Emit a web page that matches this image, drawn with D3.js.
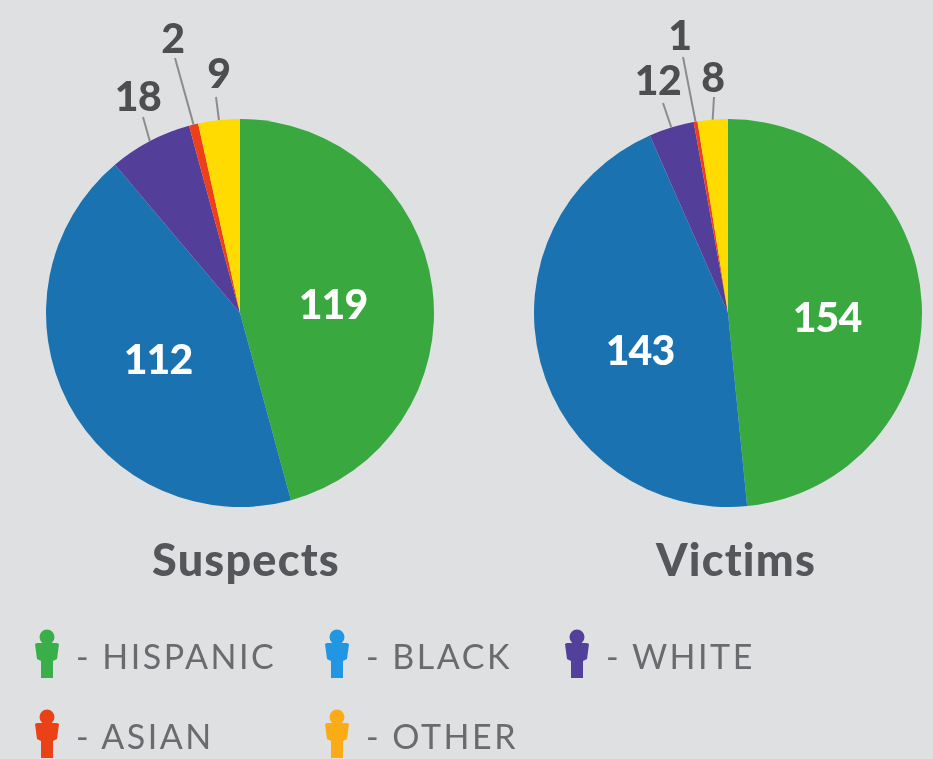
<!DOCTYPE html>
<html>
<head>
<meta charset="utf-8">
<script src="https://cdn.jsdelivr.net/npm/d3@7"></script>
<style>
html, body { margin: 0; padding: 0; background: #dfe0e2; }
svg { display: block; filter: blur(0.6px); }
text { font-family: Lato, "Open Sans", sans-serif; }
</style>
</head>
<body>
<div id="chart"></div>
<script>
var groups = ["Hispanic", "Black", "White", "Asian", "Other"];
var legendLabels = ["HISPANIC", "BLACK", "WHITE", "ASIAN", "OTHER"];
var suspects = [119, 112, 18, 2, 9];
var victims = [154, 143, 12, 1, 8];

var sliceColors = ["#39a93f", "#1a72b0", "#533f99", "#ee3f1a", "#ffdb00"];
var legendColors = ["#3aae48", "#2196e3", "#53409a", "#ea4216", "#fbab15"];

// label spots, relative to the pie centre
var suspectLabels = [[93, -9], [-82, 46], [-102, -217], [-67, -275], [-21, -240]];
var victimLabels = [[99, 4], [-88, 37], [-70, -233], [-48, -278], [-15, -236]];
// where the leader line stops, small slices only
var suspectLeaders = [null, null, [-97, -196], [-65, -255], [-24, -216]];
var victimLeaders = [null, null, [-65, -210], [-45, -256], [-14, -216]];

var legendX = [47, 337, 577, 47, 337];
var legendY = [669, 669, 669, 749, 749];

var width = 933,
  height = 759,
  radius = 194;

var svg = d3
  .select("#chart")
  .append("svg")
  .attr("width", width)
  .attr("height", height);

var pie = d3.pie().sort(null);
var arc = d3.arc().innerRadius(0).outerRadius(radius);
var color = d3.scaleOrdinal().domain(groups).range(sliceColors);

function drawPie(values, cx, cy, labels, leaders, title, titleX) {
  var g = svg
    .append("g")
    .attr("transform", "translate(" + cx + "," + cy + ")");
  var arcs = pie(values);

  g.selectAll("path")
    .data(arcs)
    .enter()
    .append("path")
    .attr("d", arc)
    .attr("fill", function(d, i) {
      return color(groups[i]);
    });

  arcs.forEach(function(d, i) {
    var big = leaders[i] == null;
    if (!big) {
      var mid = (d.startAngle + d.endAngle) / 2;
      g.append("line")
        .attr("x1", Math.sin(mid) * radius)
        .attr("y1", -Math.cos(mid) * radius)
        .attr("x2", leaders[i][0])
        .attr("y2", leaders[i][1])
        .attr("stroke", "#8b8c8e")
        .attr("stroke-width", 2);
    }
    g.append("text")
      .attr("x", labels[i][0])
      .attr("y", labels[i][1])
      .attr("dy", "0.36em")
      .attr("text-anchor", "middle")
      .attr("font-size", 41)
      .attr("font-weight", 900)
      .attr("letter-spacing", big ? -1 : -0.5)
      .attr("fill", big ? "#ffffff" : "#4d4e50")
      .text(d.data);
  });

  svg
    .append("text")
    .attr("x", titleX)
    .attr("y", 576)
    .attr("text-anchor", "middle")
    .attr("font-size", 45)
    .attr("font-weight", 900)
    .attr("letter-spacing", 1.2)
    .attr("fill", "#55565a")
    .text(title);
}

drawPie(suspects, 240, 313, suspectLabels, suspectLeaders, "Suspects", 246);
drawPie(victims, 728, 313, victimLabels, victimLeaders, "Victims", 736);

// little person icon, drawn around 0,0 at the text baseline
var bodyPath = d3.path();
bodyPath.moveTo(-10, -26);
bodyPath.lineTo(10, -26);
bodyPath.lineTo(12, -25);
bodyPath.lineTo(10, -10);
bodyPath.lineTo(6, -8);
bodyPath.lineTo(6, 9);
bodyPath.lineTo(-6, 9);
bodyPath.lineTo(-6, -8);
bodyPath.lineTo(-10, -10);
bodyPath.lineTo(-12, -25);
bodyPath.closePath();

var legend = svg
  .selectAll(".legend")
  .data(legendLabels)
  .enter()
  .append("g")
  .attr("class", "legend")
  .attr("transform", function(d, i) {
    return "translate(" + legendX[i] + "," + legendY[i] + ")";
  });

legend
  .append("circle")
  .attr("cy", -32)
  .attr("r", 7.5)
  .attr("fill", function(d, i) {
    return legendColors[i];
  });
legend
  .append("path")
  .attr("d", bodyPath.toString())
  .attr("fill", function(d, i) {
    return legendColors[i];
  });
legend
  .append("text")
  .attr("x", 29)
  .attr("font-size", 34)
  .attr("letter-spacing", 2.5)
  .attr("fill", "#6a6b6e")
  .text(function(d) {
    return "- " + d;
  });
</script>
</body>
</html>
